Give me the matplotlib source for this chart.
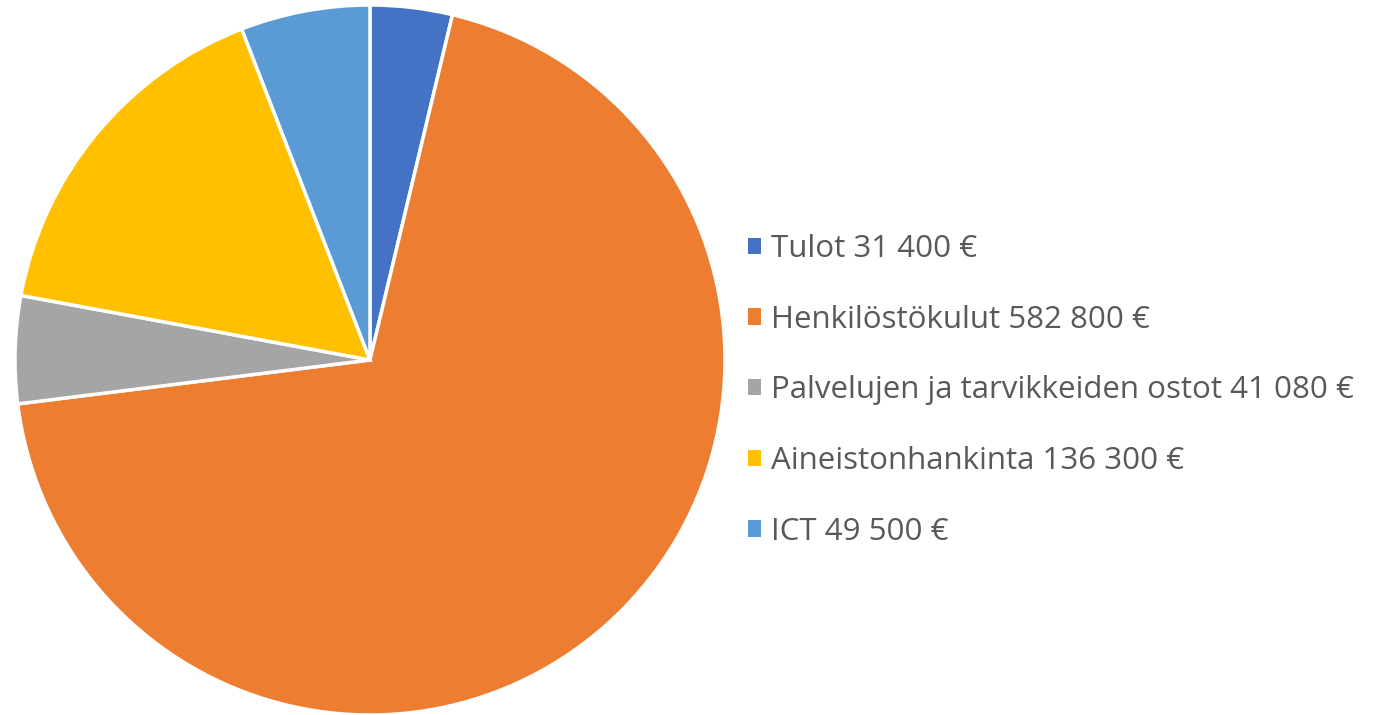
import matplotlib.pyplot as plt
from matplotlib.patches import Patch

labels = ['Tulot 31 400 €', 'Henkilöstökulut 582 800 €',
          'Palvelujen ja tarvikkeiden ostot 41 080 €',
          'Aineistonhankinta 136 300 €', 'ICT 49 500 €']
values = [31400, 582800, 41080, 136300, 49500]
colors = ['#4472C4', '#ED7D31', '#A5A5A5', '#FFC000', '#5B9BD5']

plt.rcParams['font.family'] = ['Open Sans', 'DejaVu Sans']

fig = plt.figure(figsize=(13.73, 7.15), dpi=100)
ax = fig.add_axes([15 / 1373, 0, 710 / 1373, 710 / 715])
ax.pie(values, colors=colors, startangle=90, counterclock=False,
       wedgeprops=dict(edgecolor='white', linewidth=2.5))
ax.set_xlim(-1.0, 1.0)
ax.set_ylim(-1.0, 1.0)
ax.set_aspect('equal')

handles = [Patch(facecolor=c, edgecolor='none') for c in colors]
leg = fig.legend(handles, labels, loc='upper left',
                 bbox_to_anchor=(720 / 1373, 1 - 206 / 715),
                 frameon=False, fontsize=22.5, handlelength=0.42,
                 handleheight=0.42, handletextpad=0.3, labelspacing=1.3)
for t in leg.get_texts():
    t.set_color('#595959')

fig.savefig('out.png', dpi=100)
